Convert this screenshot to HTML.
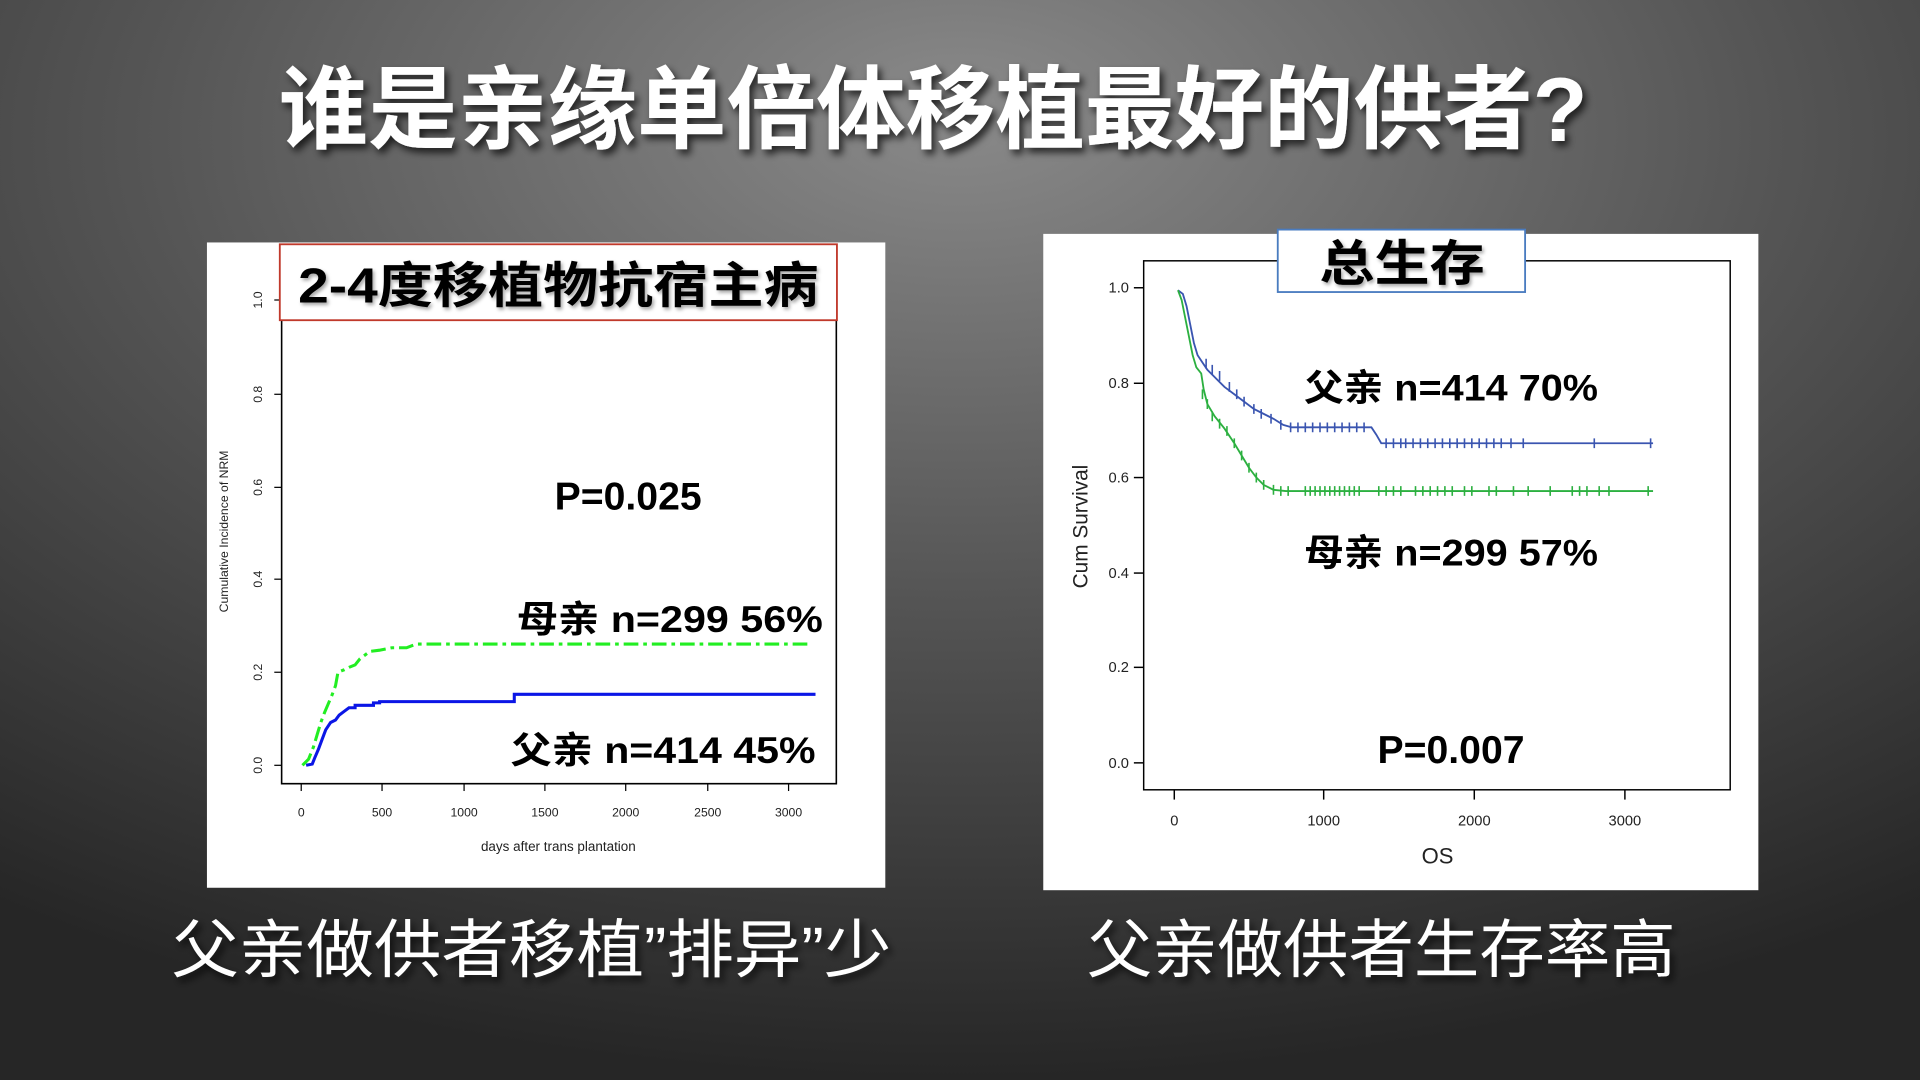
<!DOCTYPE html>
<html><head><meta charset="utf-8"><style>
html,body{margin:0;padding:0;width:1920px;height:1080px;overflow:hidden;background:#3a3a3a}
svg{display:block}
</style></head><body>
<svg width="1920" height="1080" viewBox="0 0 1568 882" preserveAspectRatio="none" xmlns="http://www.w3.org/2000/svg">
<defs>
<radialGradient id="bg" cx="0.5" cy="0.15" r="0.85" fx="0.5" fy="0.1">
<stop offset="0" stop-color="#8a8a8a"/><stop offset="0.5" stop-color="#555"/><stop offset="1" stop-color="#262626"/>
</radialGradient>
<filter id="sh" x="-5%" y="-20%" width="110%" height="150%"><feDropShadow dx="3" dy="4" stdDeviation="3" flood-color="#000" flood-opacity="0.7"/></filter>
<filter id="sh2" x="-5%" y="-20%" width="110%" height="150%"><feDropShadow dx="1.5" dy="2" stdDeviation="1.5" flood-color="#000" flood-opacity="0.35"/></filter>
</defs>
<rect width="1568" height="882" fill="url(#bg)"/>
<g font-family="'Liberation Sans','Noto Sans CJK SC',sans-serif">
<text x="762" y="115" font-size="74" font-weight="bold" fill="#fff" text-anchor="middle" textLength="1069" lengthAdjust="spacingAndGlyphs" filter="url(#sh)">谁是亲缘单倍体移植最好的供者?</text>

<!-- LEFT PANEL -->
<rect x="169" y="198" width="554" height="527" fill="#fff"/>
<path d="M230 262 V640 H683 V262" fill="none" stroke="#000" stroke-width="1.3"/>
<g stroke="#000" stroke-width="1">
<line x1="224" y1="245" x2="230" y2="245"/><line x1="224" y1="322" x2="230" y2="322"/><line x1="224" y1="398" x2="230" y2="398"/><line x1="224" y1="473" x2="230" y2="473"/><line x1="224" y1="549" x2="230" y2="549"/><line x1="224" y1="625" x2="230" y2="625"/>
<line x1="246" y1="640" x2="246" y2="646"/><line x1="312" y1="640" x2="312" y2="646"/><line x1="379" y1="640" x2="379" y2="646"/><line x1="445" y1="640" x2="445" y2="646"/><line x1="511" y1="640" x2="511" y2="646"/><line x1="578" y1="640" x2="578" y2="646"/><line x1="644" y1="640" x2="644" y2="646"/>
</g>
<g font-size="10" fill="#222" text-anchor="middle">
<text transform="translate(214,245) rotate(-90)">1.0</text><text transform="translate(214,322) rotate(-90)">0.8</text><text transform="translate(214,398) rotate(-90)">0.6</text><text transform="translate(214,473) rotate(-90)">0.4</text><text transform="translate(214,549) rotate(-90)">0.2</text><text transform="translate(214,625) rotate(-90)">0.0</text>
<text x="246" y="667">0</text><text x="312" y="667">500</text><text x="379" y="667">1000</text><text x="445" y="667">1500</text><text x="511" y="667">2000</text><text x="578" y="667">2500</text><text x="644" y="667">3000</text>
<text x="456" y="695" font-size="11">days after trans plantation</text>
<text transform="translate(186,434) rotate(-90)" font-size="10">Cumulative Incidence of NRM</text>
</g>
<polyline fill="none" stroke="#22ee22" stroke-width="2.5" stroke-dasharray="12,4,3,4" points="247,625 252,620 256,610 259,600 262,590 265,582 268,575 271,568 274,560 276,549 281,547 285,545 290,543 294,538 298,535 302,532 310,531 320,529 332,529 340,526 380,526 660,526"/>
<polyline fill="none" stroke="#0b16e6" stroke-width="2.5" points="250,625 255,624 257,619 260,612 263,604 266,596 270,590 274,588 277,584 281,581 285,578 290,578 290,576 305,576 305,574 310,574 310,573 420,573 420,567 666,567"/>
<text x="513" y="416" font-size="32" font-weight="bold" text-anchor="middle" fill="#000">P=0.025</text>
<text x="422" y="516" font-size="30" font-weight="bold" fill="#000" textLength="250" lengthAdjust="spacingAndGlyphs">母亲 n=299  56%</text>
<text x="417" y="623" font-size="30" font-weight="bold" fill="#000" textLength="249" lengthAdjust="spacingAndGlyphs">父亲 n=414  45%</text>
<rect x="228.5" y="199.5" width="455" height="62" fill="#fff" stroke="#c0392b" stroke-width="1.5"/>
<text x="456" y="247" font-size="40" font-weight="bold" text-anchor="middle" fill="#000" textLength="425" lengthAdjust="spacingAndGlyphs" filter="url(#sh2)">2-4度移植物抗宿主病</text>

<!-- RIGHT PANEL -->
<rect x="852" y="191" width="584" height="536" fill="#fff"/>
<rect x="934" y="213" width="479" height="432" fill="none" stroke="#000" stroke-width="1.2"/>
<g stroke="#000" stroke-width="1.2">
<line x1="926" y1="235" x2="934" y2="235"/><line x1="926" y1="313" x2="934" y2="313"/><line x1="926" y1="390" x2="934" y2="390"/><line x1="926" y1="468" x2="934" y2="468"/><line x1="926" y1="545" x2="934" y2="545"/><line x1="926" y1="623" x2="934" y2="623"/>
<line x1="959" y1="645" x2="959" y2="653"/><line x1="1081" y1="645" x2="1081" y2="653"/><line x1="1204" y1="645" x2="1204" y2="653"/><line x1="1327" y1="645" x2="1327" y2="653"/>
</g>
<g font-size="12" fill="#222">
<g text-anchor="end"><text x="922" y="239">1.0</text><text x="922" y="317">0.8</text><text x="922" y="394">0.6</text><text x="922" y="472">0.4</text><text x="922" y="549">0.2</text><text x="922" y="627">0.0</text></g>
<g text-anchor="middle"><text x="959" y="674">0</text><text x="1081" y="674">1000</text><text x="1204" y="674">2000</text><text x="1327" y="674">3000</text>
<text x="1174" y="705" font-size="18">OS</text>
<text transform="translate(888,430) rotate(-90)" font-size="17">Cum Survival</text></g>
</g>
<polyline fill="none" stroke="#3a55b0" stroke-width="1.5" points="962,237 966,240 969,250 972,265 975,280 978,290 982,296 986,302 992,308 1000,316 1008,322 1016,328 1024,334 1032,338 1040,342 1048,347 1055,349 1120,349 1124,355 1128,362 1350,362"/>
<polyline fill="none" stroke="#2cb040" stroke-width="1.5" points="962,237 965,245 968,260 971,275 974,290 977,300 981,305 983,318 986,330 992,340 1000,350 1008,362 1014,372 1020,382 1026,390 1032,396 1040,400 1050,401 1350,401"/>
<g stroke="#3a55b0" stroke-width="1.3">
<path d="M985 293v8M990 298v8M996 303v8M1004 312v8M1010 318v8M1016 324v8M1024 330v8M1030 334v8M1038 338v8M1046 343v8M1054 345v8M1060 345v8M1066 345v8M1072 345v8M1078 345v8M1084 345v8M1090 345v8M1096 345v8M1102 345v8M1108 345v8M1114 345v8M1132 358v8M1138 358v8M1144 358v8M1148 358v8M1154 358v8M1160 358v8M1166 358v8M1172 358v8M1178 358v8M1184 358v8M1190 358v8M1196 358v8M1202 358v8M1208 358v8M1214 358v8M1220 358v8M1226 358v8M1234 358v8M1244 358v8M1302 358v8M1348 358v8"/>
</g>
<g stroke="#2cb040" stroke-width="1.3">
<path d="M982 318v8M986 326v8M990 336v8M996 342v8M1002 348v8M1008 358v8M1014 368v8M1020 378v8M1026 386v8M1032 392v8M1040 396v8M1046 397v8M1052 397v8M1066 397v8M1070 397v8M1074 397v8M1078 397v8M1082 397v8M1086 397v8M1090 397v8M1094 397v8M1098 397v8M1102 397v8M1106 397v8M1110 397v8M1126 397v8M1132 397v8M1138 397v8M1144 397v8M1156 397v8M1162 397v8M1168 397v8M1174 397v8M1180 397v8M1186 397v8M1196 397v8M1202 397v8M1216 397v8M1222 397v8M1236 397v8M1248 397v8M1266 397v8M1284 397v8M1290 397v8M1296 397v8M1306 397v8M1314 397v8M1346 397v8"/>
</g>
<text x="1065" y="327" font-size="30" font-weight="bold" fill="#000" textLength="240" lengthAdjust="spacingAndGlyphs">父亲 n=414 70%</text>
<text x="1065" y="462" font-size="30" font-weight="bold" fill="#000" textLength="240" lengthAdjust="spacingAndGlyphs">母亲 n=299 57%</text>
<text x="1185" y="623" font-size="32" font-weight="bold" text-anchor="middle" fill="#000">P=0.007</text>
<rect x="1043.5" y="187.5" width="202" height="51" fill="#fff" stroke="#4a7cc0" stroke-width="1.5"/>
<text x="1145" y="229" font-size="40" font-weight="bold" text-anchor="middle" fill="#000" textLength="135" lengthAdjust="spacingAndGlyphs" filter="url(#sh2)">总生存</text>

<!-- captions -->
<text x="434" y="794" font-size="52" fill="#fff" text-anchor="middle" textLength="588" lengthAdjust="spacingAndGlyphs" filter="url(#sh)">父亲做供者移植”排异”少</text>
<text x="1128" y="794" font-size="52" fill="#fff" text-anchor="middle" textLength="481" lengthAdjust="spacingAndGlyphs" filter="url(#sh)">父亲做供者生存率高</text>
</g>
</svg>
</body></html>
